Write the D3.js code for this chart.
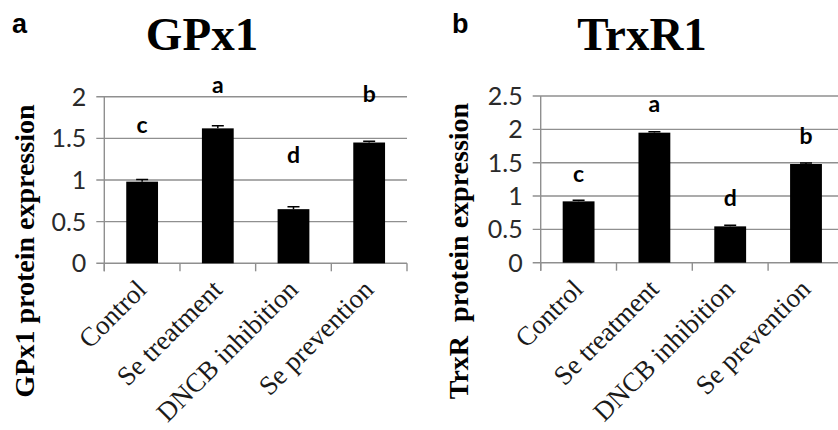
<!DOCTYPE html>
<html>
<head>
<meta charset="utf-8">
<script src="https://cdn.jsdelivr.net/npm/d3@7/dist/d3.min.js"></script>
<style>
  body { margin: 0; background: #fff; }
  svg { display: block; }
</style>
</head>
<body>
<div id="chart"></div>
<script>
// groups on the x axis (same for both panels)
var categories = ["Control", "Se treatment", "DNCB inhibition", "Se prevention"];

// panel a: GPx1
var gpx1Values = [0.98, 1.62, 0.65, 1.45];
var gpx1Errors = [0.025, 0.03, 0.03, 0.015];
var gpx1Letters = ["c", "a", "d", "b"];
var gpx1LetterAt = [1.56, 2.05, 1.21, 1.94];
var gpx1Ticks = [0, 0.5, 1, 1.5, 2];

// panel b: TrxR1
var trxr1Values = [0.92, 1.95, 0.545, 1.48];
var trxr1Errors = [0.015, 0.012, 0.015, 0.015];
var trxr1Letters = ["c", "a", "d", "b"];
var trxr1LetterAt = [1.21, 2.26, 0.85, 1.78];
var trxr1Ticks = [0, 0.5, 1, 1.5, 2, 2.5];

var svg = d3.select("#chart").append("svg")
    .attr("width", 838)
    .attr("height", 430);

svg.append("rect").attr("width", 838).attr("height", 430).attr("fill", "#fff");

function drawPanel(p) {
  var g = svg.append("g");

  var x = d3.scaleBand()
      .domain(categories)
      .range([p.left, p.right])
      .padding(0);
  var y = d3.scaleLinear()
      .domain([0, d3.max(p.ticks)])
      .range([p.bottom, p.top]);

  // gridlines + y tick labels
  g.selectAll(".grid")
      .data(p.ticks)
    .enter().append("line")
      .attr("x1", p.left - 8)
      .attr("x2", p.right)
      .attr("y1", function(d) { return y(d); })
      .attr("y2", function(d) { return y(d); })
      .attr("stroke", "#8f8f8f")
      .attr("stroke-width", 1.4);

  g.selectAll(".ytick")
      .data(p.ticks)
    .enter().append("text")
      .attr("x", p.left - 18)
      .attr("y", function(d) { return y(d); })
      .attr("dy", "0.36em")
      .attr("text-anchor", "end")
      .style("font-family", "Lato, 'Open Sans', sans-serif")
      .style("font-size", "25px")
      .attr("fill", "#2a2a2a")
      .text(function(d) { return d; });

  // y axis line
  g.append("line")
      .attr("x1", p.left).attr("x2", p.left)
      .attr("y1", y(d3.max(p.ticks))).attr("y2", p.bottom + 8)
      .attr("stroke", "#8f8f8f")
      .attr("stroke-width", 1.4);

  // x tick marks at band edges
  var edges = categories.map(function(c) { return x(c); }).concat([p.right]);
  g.selectAll(".xtick")
      .data(edges)
    .enter().append("line")
      .attr("x1", function(d) { return d; })
      .attr("x2", function(d) { return d; })
      .attr("y1", p.bottom)
      .attr("y2", p.bottom + 8)
      .attr("stroke", "#8f8f8f")
      .attr("stroke-width", 1.4);

  // bars
  var bw = x.bandwidth() * 0.42;
  g.selectAll(".bar")
      .data(p.values)
    .enter().append("rect")
      .attr("x", function(d, i) { return x(categories[i]) + (x.bandwidth() - bw) / 2; })
      .attr("width", bw)
      .attr("y", function(d) { return y(d); })
      .attr("height", function(d) { return p.bottom - y(d); })
      .attr("fill", "#000");

  // error bars
  g.selectAll(".err")
      .data(p.values)
    .enter().append("path")
      .attr("d", function(d, i) {
        var cx = x(categories[i]) + x.bandwidth() / 2,
            top = y(d + p.errors[i]);
        return "M" + cx + "," + y(d) + "V" + top + "M" + (cx - 6) + "," + top + "H" + (cx + 6);
      })
      .attr("stroke", "#000")
      .attr("stroke-width", 1.5)
      .attr("fill", "none");

  // significance letters
  g.selectAll(".sig")
      .data(p.letters)
    .enter().append("text")
      .attr("x", function(d, i) { return x(categories[i]) + x.bandwidth() / 2; })
      .attr("y", function(d, i) { return y(p.letterAt[i]); })
      .attr("text-anchor", "middle")
      .style("font-family", "Lato, sans-serif")
      .style("font-weight", "bold")
      .style("font-size", "23px")
      .attr("fill", "#000")
      .text(function(d) { return d; });

  // category labels, rotated
  g.selectAll(".xlab")
      .data(categories)
    .enter().append("text")
      .attr("transform", function(d) {
        return "translate(" + (x(d) + x.bandwidth() / 2 + 6) + "," + (p.bottom + 28) + ") rotate(-45)";
      })
      .attr("text-anchor", "end")
      .style("font-family", "'Liberation Serif', 'Times New Roman', serif")
      .style("font-size", "27px")
      .attr("fill", "#1a1a1a")
      .text(function(d) { return d; });

  // y axis title
  g.append("text")
      .attr("transform", "translate(" + p.titleX + "," + 251 + ") rotate(-90)")
      .attr("text-anchor", "middle")
      .style("font-family", "'Liberation Serif', 'Times New Roman', serif")
      .style("font-weight", "bold")
      .style("font-size", "28px")
      .attr("fill", "#000")
      .attr("xml:space", "preserve")
      .text(p.yTitle);

  // big title
  g.append("text")
      .attr("x", p.headX)
      .attr("y", 50)
      .attr("text-anchor", "middle")
      .style("font-family", "'Liberation Serif', 'Times New Roman', serif")
      .style("font-weight", "bold")
      .style("font-size", "47px")
      .attr("fill", "#000")
      .text(p.head);

  // panel letter
  g.append("text")
      .attr("x", p.tagX)
      .attr("y", 33)
      .style("font-family", "'Liberation Sans', Arial, sans-serif")
      .style("font-weight", "bold")
      .style("font-size", "27px")
      .attr("fill", "#000")
      .text(p.tag);
}

drawPanel({
  left: 104.3, right: 407, top: 96.7, bottom: 263.3,
  ticks: gpx1Ticks, values: gpx1Values, errors: gpx1Errors,
  letters: gpx1Letters, letterAt: gpx1LetterAt,
  yTitle: "GPx1 protein expression", titleX: 34,
  head: "GPx1", headX: 202, tag: "a", tagX: 12
});

drawPanel({
  left: 540.7, right: 843.9, top: 96, bottom: 262.7,
  ticks: trxr1Ticks, values: trxr1Values, errors: trxr1Errors,
  letters: trxr1Letters, letterAt: trxr1LetterAt,
  yTitle: "TrxR  protein expression", titleX: 468,
  head: "TrxR1", headX: 642, tag: "b", tagX: 452
});
</script>
</body>
</html>
